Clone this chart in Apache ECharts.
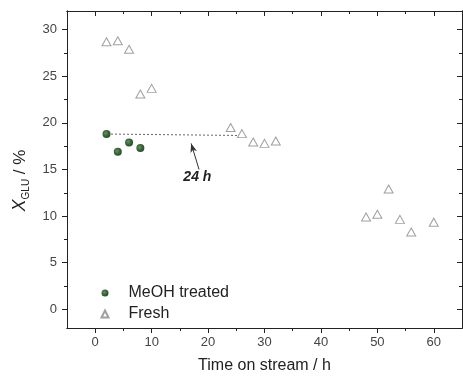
<!DOCTYPE html>
<html><head><meta charset="utf-8">
<script src="https://cdn.jsdelivr.net/npm/echarts@6/dist/echarts.min.js"></script>
<style>html,body{margin:0;padding:0;background:#fff}#c{width:463px;height:379px}</style>
</head><body><div id="c"></div>
<script>
const meohTime = [2, 4, 6, 8];
const meohConv = [18.8, 16.9, 17.9, 17.3];
const freshTime = [2, 4, 6, 8, 10, 24, 26, 28, 30, 32, 48, 50, 52, 54, 56, 60];
const freshConv = [28.7, 28.8, 27.9, 23.1, 23.7, 19.5, 18.85, 17.95, 17.8, 18.05, 9.9, 10.2, 12.9, 9.65, 8.3, 9.35];
const xMajorTicks = [0, 10, 20, 30, 40, 50, 60];
const xMinorTicks = [5, 15, 25, 35, 45, 55];
const yMajorTicks = [0, 5, 10, 15, 20, 25, 30];
const yMinorTicks = [2.5, 7.5, 12.5, 17.5, 22.5, 27.5];
const dashedFrom = [2.8, 18.8], dashedTo = [25.3, 18.65];
const arrowFrom = [18.4, 15.0], arrowTo = [17.0, 17.8];
const noteAt = [18.1, 14.2], noteText = '24 h';
const seriesNames = ['MeOH treated', 'Fresh'];

const FONT = 'Liberation Sans, Arial, sans-serif';
const AX = '#222';
const xr = {min: -5, max: 65}, yr = {min: -2, max: 32};

function xAx(pos, ticks, len, inside, labels, extra) {
  return Object.assign({
    type: 'value', position: pos, min: xr.min, max: xr.max,
    axisLine: {show: true, onZero: false, lineStyle: {color: AX, width: 1}},
    axisTick: {show: true, inside: inside, length: len, customValues: ticks, lineStyle: {color: AX, width: 1}},
    axisLabel: labels ? {show: true, customValues: ticks, margin: 8, fontFamily: FONT, fontSize: 13, color: '#444'} : {show: false},
    splitLine: {show: false}
  }, extra || {});
}
function yAx(pos, ticks, len, inside, labels, extra) {
  return Object.assign({
    type: 'value', position: pos, min: yr.min, max: yr.max,
    axisLine: {show: true, onZero: false, lineStyle: {color: AX, width: 1}},
    axisTick: {show: true, inside: inside, length: len, customValues: ticks, lineStyle: {color: AX, width: 1}},
    axisLabel: labels ? {show: true, customValues: ticks, margin: 10, fontFamily: FONT, fontSize: 13, color: '#444'} : {show: false},
    splitLine: {show: false}
  }, extra || {});
}

const chart = echarts.init(document.getElementById('c'), null, {renderer: 'canvas'});
chart.setOption({
  animation: false,
  backgroundColor: '#fff',
  grid: {left: 67, top: 11, width: 395, height: 320, containLabel: false},
  legend: {
    orient: 'vertical', left: 95.5, top: 280, itemWidth: 7, itemHeight: 7, itemGap: 5,
    data: seriesNames,
    textStyle: {fontFamily: FONT, fontSize: 16, color: '#222', padding: [0, 0, 0, 15], lineHeight: 16}
  },
  xAxis: [
    xAx('bottom', xMajorTicks, 5, false, true, {
      name: 'Time on stream / h', nameLocation: 'middle', nameGap: 30,
      nameTextStyle: {fontFamily: FONT, fontSize: 16, color: '#222'}
    }),
    xAx('bottom', xMinorTicks, 3, false, false),
    xAx('top', xMajorTicks, 5, true, false),
    xAx('top', xMinorTicks, 3, true, false)
  ],
  yAxis: [
    yAx('left', yMajorTicks, 5, false, true, {
      name: '{i|X}{s|GLU}{n| / %}', nameLocation: 'middle', nameGap: 33, nameRotate: 90,
      nameTextStyle: {
        fontFamily: FONT, color: '#222', padding: [0, 22, 0, 0],
        rich: {
          i: {fontFamily: FONT, fontSize: 18, fontStyle: 'italic', color: '#222', verticalAlign: 'bottom', lineHeight: 20},
          s: {fontFamily: FONT, fontSize: 10, color: '#222', verticalAlign: 'bottom', lineHeight: 10, padding: [0, 0, -3, 0]},
          n: {fontFamily: FONT, fontSize: 17, color: '#222', verticalAlign: 'bottom', lineHeight: 20}
        }
      }
    }),
    yAx('left', yMinorTicks, 3, false, false),
    yAx('right', yMajorTicks, 5, true, false),
    yAx('right', yMinorTicks, 3, true, false)
  ],
  series: [
    {
      name: seriesNames[0], type: 'scatter', symbol: 'circle', symbolSize: 8,
      data: meohTime.map((t, i) => [t, meohConv[i]]),
      itemStyle: {
        color: {type: 'radial', x: 0.4, y: 0.4, r: 0.7,
          colorStops: [{offset: 0, color: '#238a23'}, {offset: 0.45, color: '#0b430b'}, {offset: 1, color: '#000800'}]},
        borderWidth: 0
      },
      markLine: {
        silent: true, symbol: ['none', 'none'], label: {show: false},
        lineStyle: {color: '#666', type: [2, 2], width: 1},
        data: [[{coord: dashedFrom}, {coord: dashedTo}]]
      },
      z: 3
    },
    {
      name: seriesNames[1], type: 'scatter', symbol: 'triangle', symbolSize: [9, 8],
      data: freshTime.map((t, i) => [t, freshConv[i]]),
      itemStyle: {color: '#fff', borderColor: '#888', borderWidth: 1},
      markLine: {
        silent: true, symbol: ['none', 'arrow'], symbolSize: [5, 9], label: {show: false},
        lineStyle: {color: '#333', type: 'solid', width: 1},
        data: [[{coord: arrowFrom}, {coord: arrowTo}]]
      },
      markPoint: {
        silent: true, symbol: 'circle', symbolSize: 0,
        label: {show: true, position: 'inside', formatter: noteText, fontFamily: FONT, fontSize: 14,
          fontWeight: 'bold', fontStyle: 'italic', color: '#222'},
        data: [{coord: noteAt}]
      },
      z: 3
    }
  ]
});
</script></body></html>
